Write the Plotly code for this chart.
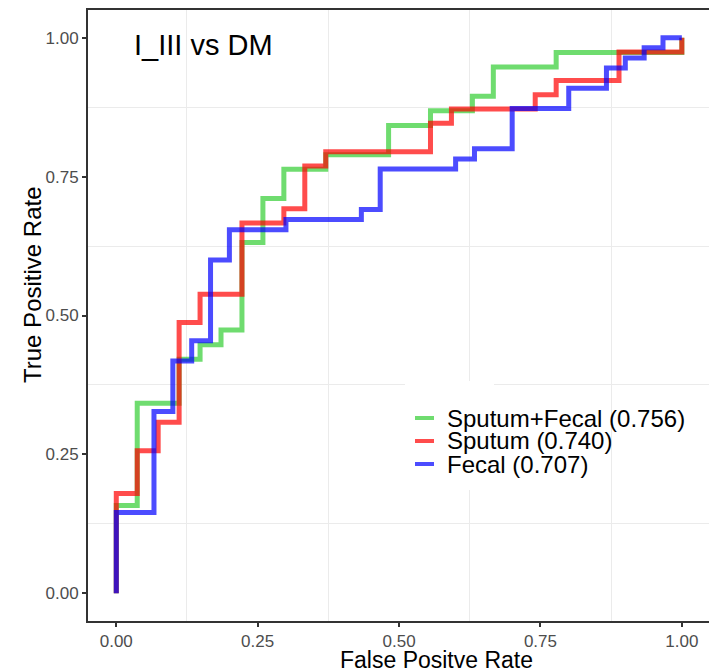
import plotly.graph_objects as go

# ROC step points: cumulative false / true positives at each threshold
combo_fp = [0, 1, 3, 4, 5, 6, 7, 8, 10, 13, 15, 17, 18, 21, 27, 27]
combo_tp = [0, 6, 13, 16, 17, 18, 24, 27, 29, 30, 32, 33, 34, 36, 37, 38]
combo_n_ctrl, combo_n_case = 27, 38

sputum_fp = [0, 1, 2, 3, 4, 6, 8, 9, 10, 15, 16, 20, 21, 24, 27, 27]
sputum_tp = [0, 7, 10, 12, 19, 21, 26, 27, 30, 31, 33, 34, 35, 36, 38, 39]
sputum_n_ctrl, sputum_n_case = 27, 39

fecal_fp = [0, 2, 3, 4, 5, 6, 9, 13, 14, 18, 19, 21, 24, 26, 27, 28, 29, 30]
fecal_tp = [0, 8, 18, 23, 25, 33, 36, 37, 38, 42, 43, 44, 48, 50, 52, 53, 54, 55]
fecal_n_ctrl, fecal_n_case = 30, 55

series_names = ["Sputum+Fecal", "Sputum", "Fecal"]
auc_labels = ["0.756", "0.740", "0.707"]
series_colors = ["rgba(50,205,50,0.7)", "rgba(255,0,0,0.7)", "rgba(0,0,255,0.7)"]

tick_vals = [0, 0.25, 0.5, 0.75, 1]
tick_text = ["0.00", "0.25", "0.50", "0.75", "1.00"]
minor_vals = [0.125, 0.375, 0.625, 0.875]

panel_title = "I_III vs DM"
x_title = "False Positve Rate"
y_title = "True Positive Rate"

FONT = "Liberation Sans, Arial, sans-serif"
W, H = 709, 672
ML, MR, MT, MB = 88, 0, 10, 51


def xp(px):
    return (px - ML) / (W - ML - MR)


def yp(py):
    return (H - MB - py) / (H - MT - MB)


curves = [
    (combo_fp, combo_tp, combo_n_ctrl, combo_n_case),
    (sputum_fp, sputum_tp, sputum_n_ctrl, sputum_n_case),
    (fecal_fp, fecal_tp, fecal_n_ctrl, fecal_n_case),
]

fig = go.Figure()
for (fp, tp, n_ctrl, n_case), name, color in zip(curves, series_names, series_colors):
    fig.add_trace(go.Scatter(
        x=[f / n_ctrl for f in fp],
        y=[t / n_case for t in tp],
        mode="lines",
        line=dict(shape="vh", width=5, color=color),
        name=name,
        showlegend=False,
        hoverinfo="skip",
    ))

axis_common = dict(
    tickvals=tick_vals,
    ticktext=tick_text,
    showgrid=False,
    zeroline=False,
    showline=True,
    linecolor="#333333",
    linewidth=2,
    ticks="outside",
    ticklen=4,
    tickwidth=2,
    tickcolor="#333333",
    tickfont=dict(family=FONT, size=17, color="#4d4d4d"),
    minor=dict(tickmode="array", tickvals=minor_vals, showgrid=True,
               gridcolor="#ebebeb", gridwidth=1.2, ticks=""),
)

fig.update_xaxes(range=[-0.05, 1.048], mirror=True, **axis_common)
fig.update_yaxes(range=[-0.05, 1.05], mirror=False, **axis_common)

shapes = [
    # legend background
    dict(type="rect", xref="paper", yref="paper",
         x0=xp(405), x1=xp(494), y0=yp(490), y1=yp(381),
         fillcolor="white", line=dict(width=0), layer="above"),
]
annotations = []
row_y = [418, 441, 464]
for name, auc, color, ry in zip(series_names, auc_labels, series_colors, row_y):
    shapes.append(dict(type="line", xref="paper", yref="paper",
                       x0=xp(415), x1=xp(434), y0=yp(ry), y1=yp(ry),
                       line=dict(color=color, width=4), layer="above"))
    annotations.append(dict(xref="paper", yref="paper", x=xp(445), y=yp(ry),
                            xanchor="left", yanchor="middle", showarrow=False,
                            text=f"{name} ({auc})",
                            font=dict(family=FONT, size=24, color="black")))

annotations.append(dict(xref="x", yref="y", x=0.155, y=0.987, showarrow=False,
                        xanchor="center", yanchor="middle", text=panel_title,
                        font=dict(family=FONT, size=29, color="black")))
annotations.append(dict(xref="paper", yref="paper", x=xp(436), y=yp(660),
                        showarrow=False, xanchor="center", yanchor="middle",
                        text=x_title, font=dict(family=FONT, size=23, color="black")))
annotations.append(dict(xref="paper", yref="paper", x=xp(32), y=yp(285),
                        showarrow=False, xanchor="center", yanchor="middle",
                        textangle=-90, text=y_title,
                        font=dict(family=FONT, size=24, color="black")))

fig.update_layout(
    width=W, height=H,
    margin=dict(l=ML, r=MR, t=MT, b=MB),
    paper_bgcolor="white",
    plot_bgcolor="white",
    showlegend=False,
    shapes=shapes,
    annotations=annotations,
    font=dict(family=FONT),
)

fig.write_html("out.html")
